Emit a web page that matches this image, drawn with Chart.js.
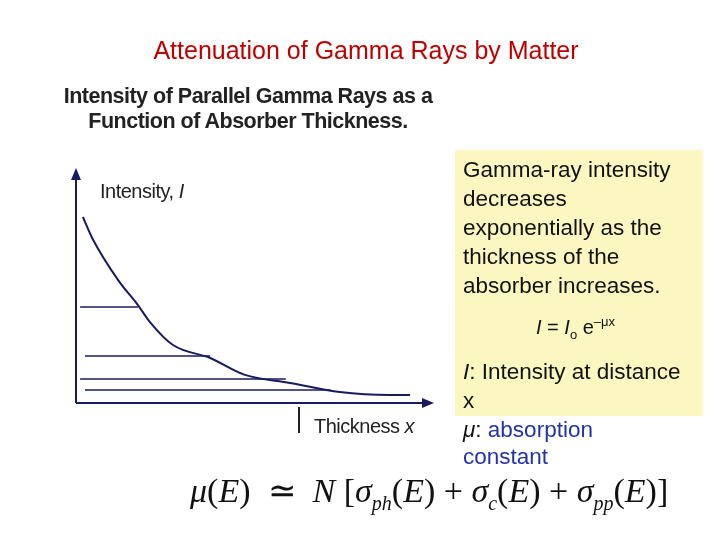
<!DOCTYPE html>
<html><head><meta charset="utf-8">
<script src="https://cdn.jsdelivr.net/npm/chart.js@4"></script>
<style>
body{margin:0;width:720px;height:540px;background:#fff;position:relative;overflow:hidden;font-family:Arial,"Liberation Sans",sans-serif}
#c{position:absolute;left:0;top:0}
.t{position:absolute;white-space:nowrap}
</style></head><body>
<canvas id="c" width="720" height="540"></canvas>
<div class="t" style="left:0;width:732px;text-align:center;top:36px;font-size:25px;color:#c00000">Attenuation of Gamma Rays by Matter</div>
<div class="t" style="left:40px;width:416px;text-align:center;top:84px;font-size:21.5px;line-height:25px;color:#222;font-weight:bold;letter-spacing:-0.5px">Intensity of Parallel Gamma Rays as a<br>Function of Absorber Thickness.</div>
<div class="t" style="left:100px;top:180px;font-size:20px;color:#222;letter-spacing:-0.5px">Intensity, <i>I</i></div>
<div class="t" style="left:314px;top:415px;font-size:20px;color:#222;letter-spacing:-0.5px">Thickness <i>x</i></div>
<div style="position:absolute;left:298px;top:407px;width:2px;height:26px;background:#222"></div>
<div style="position:absolute;left:455px;top:150px;width:248px;height:266px;background:#fcf6c0"></div>
<div class="t" style="left:463px;top:155px;font-size:22.5px;line-height:29px;color:#111">Gamma-ray intensity<br>decreases<br>exponentially as the<br>thickness of the<br>absorber increases.</div>
<div class="t" style="left:536px;top:314px;font-size:20px;color:#111"><i>I</i> = <i>I</i><sub style="font-size:13px">o</sub> e<sup style="font-size:13px">–μx</sup></div>
<div class="t" style="left:463px;top:357px;font-size:22.5px;line-height:29px;color:#111"><i>I</i>: Intensity at distance<br>x<br><i>μ</i>: <span style="color:#2233aa">absorption</span></div>
<div style="position:absolute;left:463px;top:444px;width:240px;height:22px;overflow:hidden"><div class="t" style="top:0;font-size:22.5px;color:#2233aa">constant</div></div>
<div class="t" style="left:190px;top:470px;font-size:34px;font-family:'Liberation Serif',serif;color:#111"><i>μ</i>(<i>E</i>) &nbsp;≃ &nbsp;<i>N</i> [<i>σ<sub style="font-size:20px">ph</sub></i>(<i>E</i>) + <i>σ<sub style="font-size:20px">c</sub></i>(<i>E</i>) + <i>σ<sub style="font-size:20px">pp</sub></i>(<i>E</i>)]</div>
<script>
// curve, in axis units (0-100 both ways)
var curveX = [2.0, 4.7, 12.2, 18.0, 21.5, 28.2, 39.0, 49.1, 62.2, 76.7, 91.3, 97.1];
var curveY = [83.4, 74.0, 55.2, 43.9, 36.3, 26.0, 20.2, 12.6, 9.0, 4.9, 3.6, 3.6];
// horizontal level lines
var levelY = [43.0, 21.1, 10.8, 5.8];
var levelStart = [1.2, 2.6, 1.2, 2.6];
var levelEnd = [18.0, 39.0, 61.0, 74.0];

var datasets = [{
  data: curveX.map((x, i) => ({x: x, y: curveY[i]})),
  borderColor: '#1a1a60', borderWidth: 2, pointRadius: 0, cubicInterpolationMode: 'monotone'
}];
for (let i = 0; i < levelY.length; i++) {
  datasets.push({
    data: [{x: levelStart[i], y: levelY[i]}, {x: levelEnd[i], y: levelY[i]}],
    borderColor: '#1a1a60', borderWidth: 1.5, pointRadius: 0
  });
}

const axesPlugin = {
  id: 'axes',
  afterDraw(chart) {
    const c = chart.ctx, a = chart.chartArea;
    c.save();
    c.strokeStyle = '#1a1a60'; c.fillStyle = '#1a1a60'; c.lineWidth = 2;
    c.beginPath();
    c.moveTo(a.left, a.bottom); c.lineTo(a.left, a.top - 5);
    c.moveTo(a.left, a.bottom); c.lineTo(a.right + 8, a.bottom);
    c.stroke();
    c.beginPath(); c.moveTo(a.left, a.top - 12); c.lineTo(a.left - 5, a.top); c.lineTo(a.left + 5, a.top); c.fill();
    c.beginPath(); c.moveTo(a.right + 14, a.bottom); c.lineTo(a.right + 2, a.bottom - 5); c.lineTo(a.right + 2, a.bottom + 5); c.fill();
    c.restore();
  }
};

new Chart(document.getElementById('c'), {
  type: 'line',
  data: {datasets: datasets},
  options: {
    responsive: false, animation: false,
    layout: {padding: {left: 76, right: 300, top: 180, bottom: 137}},
    plugins: {legend: {display: false}, tooltip: {enabled: false}},
    scales: {
      x: {type: 'linear', min: 0, max: 100, display: false},
      y: {min: 0, max: 100, display: false}
    }
  },
  plugins: [axesPlugin]
});
</script>
</body></html>
